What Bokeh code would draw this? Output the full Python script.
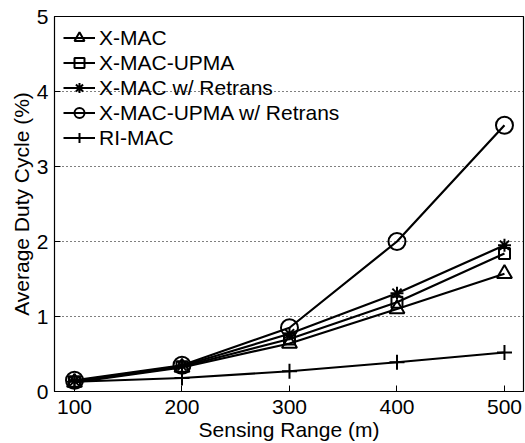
from bokeh.plotting import figure
from bokeh.models import FixedTicker, Range1d
from bokeh.embed import file_html
from bokeh.resources import INLINE

x = [100, 200, 300, 400, 500]
xmac = [0.12, 0.32, 0.64, 1.10, 1.57]
xmac_upma = [0.13, 0.33, 0.70, 1.19, 1.84]
xmac_retrans = [0.14, 0.34, 0.77, 1.31, 1.95]
xmac_upma_retrans = [0.15, 0.35, 0.85, 2.00, 3.55]
rimac = [0.13, 0.18, 0.27, 0.39, 0.52]
x_ticks = [100, 200, 300, 400, 500]
y_ticks = [0, 1, 2, 3, 4, 5]

FONT = "Liberation Sans"

p = figure(width=525, height=443, output_backend="svg", toolbar_location=None,
           x_range=Range1d(81.4, 517.7), y_range=Range1d(0, 5),
           min_border_left=54, min_border_right=2, min_border_top=16, min_border_bottom=52)
p.background_fill_color = "white"
p.border_fill_color = "white"
p.outline_line_color = "black"
p.outline_line_width = 1.2

series = [
    ("X-MAC", xmac, "triangle", 15),
    ("X-MAC-UPMA", xmac_upma, "square", 11),
    ("X-MAC w/ Retrans", xmac_retrans, "asterisk", 13),
    ("X-MAC-UPMA w/ Retrans", xmac_upma_retrans, "circle", 17),
    ("RI-MAC", rimac, "cross", 15),
]
for name, ys, mk, sz in series:
    p.line(x, ys, line_color="black", line_width=2.2, legend_label=name)
    p.scatter(x, ys, marker=mk, size=sz, line_color="black", line_width=2,
              fill_alpha=0, legend_label=name)

for ax in (p.xaxis[0], p.yaxis[0]):
    ax.major_tick_in = 6
    ax.major_tick_out = 0
    ax.minor_tick_line_color = None
    ax.major_label_text_font = FONT
    ax.major_label_text_font_size = "21px"
    ax.major_label_text_color = "black"
    ax.axis_label_text_font = FONT
    ax.axis_label_text_font_size = "21px"
    ax.axis_label_text_font_style = "normal"
    ax.axis_label_text_color = "black"
    ax.axis_line_color = "black"
    ax.major_tick_line_color = "black"

p.xaxis.ticker = FixedTicker(ticks=x_ticks)
p.yaxis.ticker = FixedTicker(ticks=y_ticks)
p.xaxis.axis_label = "Sensing Range (m)"
p.yaxis.axis_label = "Average Duty Cycle (%)"
p.xaxis.major_label_standoff = 8
p.xaxis.axis_label_standoff = 1
p.yaxis.major_label_standoff = 6
p.yaxis.axis_label_standoff = 1

p.xgrid.grid_line_color = None
p.ygrid.ticker = FixedTicker(ticks=[1, 2, 3, 4])
p.ygrid.grid_line_color = "black"
p.ygrid.grid_line_dash = "1 3"
p.ygrid.grid_line_width = 1

lg = p.legend[0]
lg.location = "top_left"
lg.border_line_color = None
lg.background_fill_alpha = 0
lg.label_text_font = FONT
lg.label_text_font_size = "21px"
lg.label_text_color = "black"
lg.glyph_width = 32
lg.glyph_height = 25
lg.label_height = 25
lg.spacing = 0
lg.label_standoff = 4
lg.padding = 10
lg.margin = 9

open("out.html", "w").write(file_html(p, INLINE))
